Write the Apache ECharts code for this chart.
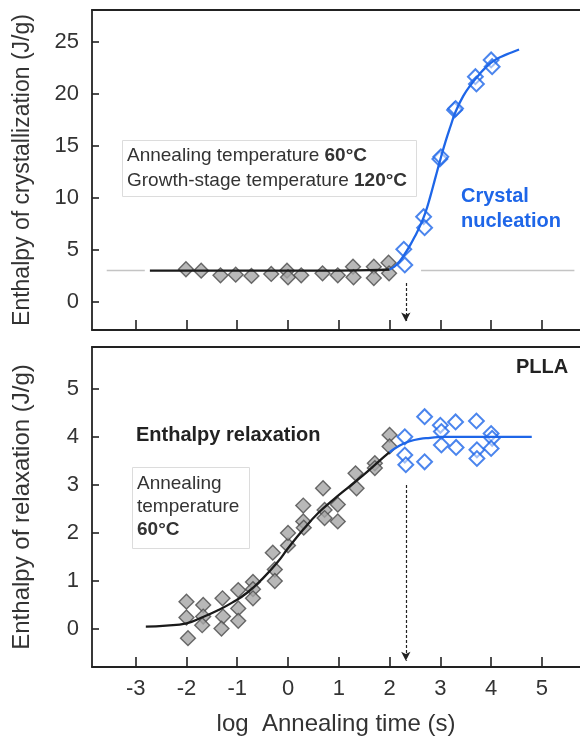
<!DOCTYPE html>
<html><head><meta charset="utf-8">
<script src="https://cdn.jsdelivr.net/npm/echarts@6/dist/echarts.min.js"></script>
<style>html,body{margin:0;padding:0;background:#fff}#c{width:580px;height:737px}</style>
</head><body><div id="c"></div>
<script>
// ---- tick labels ----
const xTicks = [-3,-2,-1,0,1,2,3,4,5];
const topYTicks = [0,5,10,15,20,25];
const botYTicks = [0,1,2,3,4,5];

// ---- top panel: enthalpy of crystallization ----
const crystGrayX = [-2.01,-1.71,-1.33,-1.03,-0.72,-0.33,-0.02,0.0,0.26,0.68,0.98,1.28,1.29,1.69,1.69,1.98,1.99];
const crystGrayY = [3.12,2.99,2.54,2.60,2.48,2.67,2.99,2.35,2.54,2.73,2.54,3.37,2.35,3.37,2.28,3.76,2.73];
const crystBlueX = [2.28,2.30,2.67,2.69,2.99,3.01,3.28,3.30,3.69,3.71,4.00,4.02];
const crystBlueY = [5.05,3.54,8.19,7.13,13.75,13.95,18.47,18.60,21.68,20.97,23.29,22.64];
const crystFitBlackX = [-2.72,-2.0,-1.0,0.0,1.0,1.8,2.0];
const crystFitBlackY = [3.0,3.0,3.0,3.0,3.0,3.05,3.1];
const crystFitBlueX = [2.0,2.1,2.2,2.3,2.4,2.5,2.6,2.7,2.8,2.9,3.0,3.1,3.2,3.3,3.45,3.6,3.75,3.9,4.05,4.2,4.4,4.55];
const crystFitBlueY = [3.1,3.4,3.9,4.6,5.4,6.3,7.3,8.5,10.1,11.9,13.7,15.4,16.9,18.3,19.8,20.9,21.8,22.6,23.2,23.6,24.0,24.3];
const baselineX = [-3.57,-2.82,null,2.62,5.64];
const baselineY = [3,3,null,3,3];
const arrowX = 2.32;
const crystArrowY = [1.8,-1.9];

// ---- bottom panel: enthalpy of relaxation ----
const relaxGrayX = [-2.0,-2.0,-1.97,-1.67,-1.67,-1.69,-1.29,-1.28,-1.31,-0.98,-0.98,-0.98,-0.69,-0.69,-0.69,-0.30,-0.26,-0.26,0.0,0.0,0.30,0.30,0.31,0.69,0.72,0.72,0.98,0.98,1.33,1.35,1.71,1.71,2.0,2.0];
const relaxGrayY = [0.57,0.24,-0.19,0.50,0.26,0.08,0.64,0.26,0.01,0.81,0.43,0.17,0.98,0.83,0.64,1.59,1.24,1.00,1.74,2.00,2.57,2.24,2.11,2.93,2.48,2.31,2.59,2.24,3.24,2.93,3.45,3.35,4.04,3.80];
const relaxBlueX = [2.30,2.30,2.32,2.69,2.69,3.00,3.02,3.02,3.30,3.31,3.71,3.72,3.72,4.00,4.02,4.00];
const relaxBlueY = [4.00,3.62,3.42,4.42,3.48,4.24,4.11,3.83,4.31,3.78,4.33,3.73,3.55,4.07,3.97,3.76];
const relaxFitBlackX = [-2.8,-2.4,-2.0,-1.7,-1.4,-1.1,-0.8,-0.5,-0.2,0.0,0.3,0.6,0.9,1.2,1.5,1.8,2.0];
const relaxFitBlackY = [0.05,0.07,0.12,0.24,0.38,0.55,0.76,1.05,1.40,1.68,2.07,2.42,2.70,2.96,3.22,3.50,3.68];
const relaxFitBlueX = [2.0,2.2,2.4,2.6,2.8,3.0,3.5,4.0,4.5,4.8];
const relaxFitBlueY = [3.68,3.82,3.91,3.96,3.98,4.0,4.0,4.0,4.0,4.0];
const relaxArrowY = [3.0,-0.66];

const zip = (xs, ys) => xs.map((x, i) => [x, ys[i]]);
const FONT = 'Liberation Sans, Arial, sans-serif';
const BLUE = '#1e66e8';
const TXT = '#333';
const AX = '#222';

const grayMarker = {type:'scatter', symbol:'rect', symbolRotate:45, symbolSize:10.5,
  itemStyle:{color:'#a6a6a6', borderColor:'#4a4a4a', borderWidth:1.4}, z:3};
const blueMarker = {type:'scatter', symbol:'rect', symbolRotate:45, symbolSize:10.5,
  itemStyle:{color:'rgba(255,255,255,0.6)', borderColor:BLUE, borderWidth:2}, z:3};
const fitLine = (color) => ({type:'line', smooth:true, showSymbol:false, symbol:'none',
  lineStyle:{color:color, width:2.3}, z:4, silent:true});
const arrow = (ys, xi, yi) => ({type:'line', xAxisIndex:xi, yAxisIndex:yi, data:[], z:2,
  markLine:{silent:true, symbol:['none','arrow'], symbolSize:[7,9], label:{show:false},
    lineStyle:{type:[3,2], color:'#222', width:1.2},
    data:[[{coord:[arrowX, ys[0]]},{coord:[arrowX, ys[1]]}]]}});

const XMIN = -3.86, XMAX = 5.75;
const xAxisBottom = (gi, showLabel) => ({
  type:'value', gridIndex:gi, min:XMIN, max:XMAX, position:'bottom',
  axisLine:{show:true, onZero:false, lineStyle:{color:AX, width:1.8}}, splitLine:{show:false},
  axisTick:{show:true, inside:true, length:10, customValues:xTicks, lineStyle:{color:AX, width:1.6}},
  axisLabel:{show:showLabel, customValues:xTicks, margin:11, fontSize:22, color:TXT, fontFamily:FONT},
  name: showLabel ? 'log  Annealing time (s)' : '', nameLocation:'middle', nameGap:45,
  nameTextStyle:{fontSize:24, color:TXT, fontFamily:FONT}
});
const xAxisTop = (gi) => ({
  type:'value', gridIndex:gi, min:XMIN, max:XMAX, position:'top',
  axisLine:{show:true, onZero:false, lineStyle:{color:AX, width:1.8}}, splitLine:{show:false},
  axisTick:{show:false}, axisLabel:{show:false}
});
const yAxisBase = (gi, min, max, ticks, name, fs) => ({
  type:'value', gridIndex:gi, min:min, max:max,
  axisLine:{show:true, onZero:false, lineStyle:{color:AX, width:1.8}}, splitLine:{show:false},
  axisTick:{show:true, inside:true, length:7, customValues:ticks, lineStyle:{color:AX, width:1.6}},
  axisLabel:{customValues:ticks, margin:13, fontSize:22, color:TXT, fontFamily:FONT},
  name:name, nameLocation:'middle', nameGap:58,
  nameTextStyle:{fontSize:fs, color:TXT, fontFamily:FONT}
});

const chart = echarts.init(document.getElementById('c'), null, {renderer:'canvas'});
chart.setOption({
  backgroundColor:'#fff',
  animation:false,
  grid:[
    {left:92, top:10, right:0, height:320},
    {left:92, top:347, right:0, height:321}
  ],
  xAxis:[xAxisBottom(0,false), xAxisTop(0), xAxisBottom(1,true), xAxisTop(1)],
  yAxis:[
    yAxisBase(0, -2.73, 28.1, topYTicks, 'Enthalpy of crystallization (J/g)', 23),
    yAxisBase(1, -0.79, 5.87, botYTicks, 'Enthalpy of relaxation (J/g)', 24)
  ],
  series:[
    {type:'line', xAxisIndex:0, yAxisIndex:0, data:zip(baselineX, baselineY), showSymbol:false,
      symbol:'none', connectNulls:false, lineStyle:{color:'#c4c4c4', width:1.5}, z:1, silent:true},
    Object.assign({}, grayMarker, {xAxisIndex:0, yAxisIndex:0, data:zip(crystGrayX, crystGrayY)}),
    Object.assign({}, blueMarker, {xAxisIndex:0, yAxisIndex:0, data:zip(crystBlueX, crystBlueY)}),
    Object.assign(fitLine('#1a1a1a'), {xAxisIndex:0, yAxisIndex:0, data:zip(crystFitBlackX, crystFitBlackY)}),
    Object.assign(fitLine(BLUE), {xAxisIndex:0, yAxisIndex:0, data:zip(crystFitBlueX, crystFitBlueY)}),
    arrow(crystArrowY, 0, 0),
    Object.assign({}, grayMarker, {xAxisIndex:2, yAxisIndex:1, data:zip(relaxGrayX, relaxGrayY)}),
    Object.assign({}, blueMarker, {xAxisIndex:2, yAxisIndex:1, data:zip(relaxBlueX, relaxBlueY)}),
    Object.assign(fitLine('#1a1a1a'), {xAxisIndex:2, yAxisIndex:1, data:zip(relaxFitBlackX, relaxFitBlackY)}),
    Object.assign(fitLine(BLUE), {xAxisIndex:2, yAxisIndex:1, data:zip(relaxFitBlueX, relaxFitBlueY)}),
    arrow(relaxArrowY, 2, 1)
  ],
  graphic:[
    {type:'rect', shape:{x:122.5, y:140.5, width:294, height:56}, style:{fill:'#fff', stroke:'#dcdcdc', lineWidth:1}, z:5},
    {type:'text', x:127, y:168, style:{text:'{n|Annealing temperature }{b|60°C}\n{n|Growth-stage temperature }{b|120°C}',
      fontFamily:FONT, verticalAlign:'middle', lineHeight:25,
      rich:{n:{fontSize:19, fill:TXT, fontFamily:FONT, lineHeight:25}, b:{fontSize:19, fontWeight:'bold', fill:TXT, fontFamily:FONT, lineHeight:25}}}, z:6},
    {type:'text', x:461, y:208.5, style:{text:'Crystal\nnucleation', fontFamily:FONT, fontSize:20, fontWeight:'bold', fill:BLUE, lineHeight:25, verticalAlign:'middle'}, z:6},
    {type:'text', x:516, y:367, style:{text:'PLLA', fontFamily:FONT, fontSize:20, fontWeight:'bold', fill:'#222', verticalAlign:'middle'}, z:6},
    {type:'text', x:136, y:435, style:{text:'Enthalpy relaxation', fontFamily:FONT, fontSize:20, fontWeight:'bold', fill:'#222', verticalAlign:'middle'}, z:6},
    {type:'rect', shape:{x:132.5, y:467.5, width:117, height:81}, style:{fill:'#fff', stroke:'#dcdcdc', lineWidth:1}, z:5},
    {type:'text', x:137, y:507, style:{text:'{n|Annealing}\n{n|temperature}\n{b|60°C}', fontFamily:FONT, verticalAlign:'middle', lineHeight:23,
      rich:{n:{fontSize:19, fill:TXT, fontFamily:FONT, lineHeight:23}, b:{fontSize:19, fontWeight:'bold', fill:TXT, fontFamily:FONT, lineHeight:23}}}, z:6}
  ]
});
</script></body></html>
